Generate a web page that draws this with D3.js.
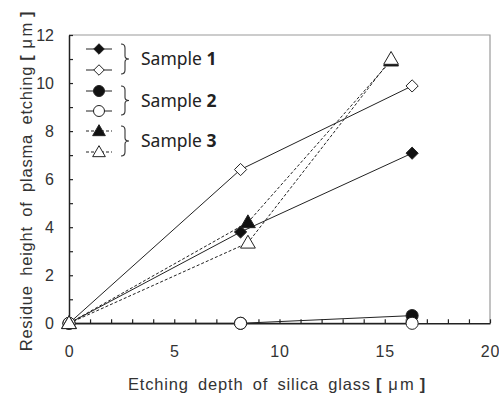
<!DOCTYPE html>
<html lang="en">
<head>
  <meta charset="UTF-8" />
  <title>Residue height vs etching depth</title>
  <style>
  body {
    margin: 0;
    background: #fff;
  }
  svg {
    display: block;
    font-family: "Liberation Sans", Arial, sans-serif;
  }
  </style>
  <script src="https://d3js.org/d3.v7.min.js"></script>
</head>
<body>
  <div id="chart"></div>
  <script>
    // values
    const depth12 = [0, 8.15, 16.3];   // sample 1 and 2 depths
    const depth3 = [0, 8.5, 15.3];     // sample 3 depths
    const s1Filled = [0, 3.8, 7.08];
    const s1Open = [0, 6.4, 9.88];
    const s2Filled = [0, 0, 0.32];
    const s2Open = [0, 0, 0];
    const s3Filled = [0, 4.2, 10.93];
    const s3Open = [0, 3.35, 11.0];
    const xTicks = [0, 5, 10, 15, 20];
    const yTicks = [0, 2, 4, 6, 8, 10, 12];
    const legendLabels = ["1", "2", "3"];

    const series = [
      { xs: depth12, ys: s1Filled, shape: "diamond", filled: true, dashed: false },
      { xs: depth12, ys: s1Open, shape: "diamond", filled: false, dashed: false },
      { xs: depth12, ys: s2Filled, shape: "circle", filled: true, dashed: false },
      { xs: depth12, ys: s2Open, shape: "circle", filled: false, dashed: false },
      { xs: depth3, ys: s3Filled, shape: "triangle", filled: true, dashed: true },
      { xs: depth3, ys: s3Open, shape: "triangle", filled: false, dashed: true }
    ];

    const width = 499, height = 398;
    const margin = { top: 35, right: 9, bottom: 75, left: 69 };

    const svg = d3.select("#chart").append("svg")
      .attr("width", width)
      .attr("height", height);

    const x = d3.scaleLinear().domain([0, 20]).range([margin.left, width - margin.right]);
    const y = d3.scaleLinear().domain([0, 12]).range([height - margin.bottom + 0.3, margin.top]);

    // grey frame on top and right
    svg.append("path")
      .attr("d", `M${x(0)},${y(12)}H${x(20)}V${y(0)}`)
      .attr("fill", "none")
      .attr("stroke", "#9a9a9a")
      .attr("stroke-width", 1.2);

    // x axis, ticks point inward
    const xAxis = svg.append("g")
      .attr("transform", `translate(0,${y(0)})`)
      .call(d3.axisBottom(x).tickValues(d3.range(0, 21)).tickSizeInner(-4).tickSizeOuter(0)
        .tickFormat(d => xTicks.includes(d) ? d : ""));
    xAxis.select(".domain").attr("stroke", "#222").attr("stroke-width", 1.5);
    xAxis.selectAll(".tick line").attr("stroke", "#222").attr("stroke-width", 1.2);
    xAxis.selectAll(".tick text")
      .attr("y", 22)
      .attr("font-size", 16)
      .attr("letter-spacing", 0.8)
      .attr("font-family", "Liberation Sans, Arial, sans-serif")
      .attr("fill", "#333");

    // y axis
    const yAxis = svg.append("g")
      .attr("transform", `translate(${x(0)},0)`)
      .call(d3.axisLeft(y).tickValues(d3.range(0, 13)).tickSizeInner(-4).tickSizeOuter(0)
        .tickFormat(d => yTicks.includes(d) ? d : ""));
    yAxis.select(".domain").attr("stroke", "#222").attr("stroke-width", 1.5);
    yAxis.selectAll(".tick line").attr("stroke", "#222").attr("stroke-width", 1.2);
    yAxis.selectAll(".tick text")
      .attr("x", -15)
      .attr("font-size", 16)
      .attr("font-family", "Liberation Sans, Arial, sans-serif")
      .attr("fill", "#333");

    // marker symbols
    const symbols = {
      diamond: d3.symbol().type(d3.symbolDiamond2).size(95),
      circle: d3.symbol().type(d3.symbolCircle).size(115),
      triangle: d3.symbol().type(d3.symbolTriangle).size(95)
    };

    const line = d3.line();

    series.forEach(s => {
      const pts = s.xs.map((d, i) => [x(d), y(s.ys[i])]);
      svg.append("path")
        .attr("d", line(pts))
        .attr("fill", "none")
        .attr("stroke", "#222")
        .attr("stroke-width", 1)
        .attr("stroke-dasharray", s.dashed ? "3,2" : null);
    });

    series.forEach(s => {
      const pts = s.xs.map((d, i) => [x(d), y(s.ys[i])]);
      svg.selectAll(null)
        .data(pts)
        .enter().append("path")
        .attr("d", symbols[s.shape])
        .attr("transform", d => `translate(${d[0]},${d[1] + (s.shape === "triangle" ? 1 : 0)})`)
        .attr("fill", s.filled ? "#111" : "#fff")
        .attr("stroke", "#222")
        .attr("stroke-width", 1);
    });

    // legend
    const legendRows = [49, 70, 91, 111, 131, 152];
    const legendSymbols = {
      diamond: d3.symbol().type(d3.symbolDiamond2).size(70),
      circle: d3.symbol().type(d3.symbolCircle).size(95),
      triangle: d3.symbol().type(d3.symbolTriangle).size(70)
    };
    const legend = svg.append("g");
    series.forEach((s, i) => {
      const ly = legendRows[i];
      legend.append("line")
        .attr("x1", 86).attr("x2", 112)
        .attr("y1", ly).attr("y2", ly)
        .attr("stroke", "#222")
        .attr("stroke-width", 1)
        .attr("stroke-dasharray", s.dashed ? "3,2" : null);
      legend.append("path")
        .attr("d", legendSymbols[s.shape])
        .attr("transform", `translate(99,${ly + (s.shape === "triangle" ? 1 : 0)})`)
        .attr("fill", s.filled ? "#111" : "#fff")
        .attr("stroke", "#222");
    });

    // braces and labels
    legendLabels.forEach((lab, i) => {
      const y0 = legendRows[i * 2] - 5, y1 = legendRows[i * 2 + 1] + 4;
      const ym = (y0 + y1) / 2;
      const bx = 121, tip = 129;
      legend.append("path")
        .attr("d", `M${bx},${y0} Q${bx + 4},${y0} ${bx + 4},${y0 + 4} V${ym - 3} Q${bx + 4},${ym} ${tip},${ym}`
          + ` Q${bx + 4},${ym} ${bx + 4},${ym + 3} V${y1 - 4} Q${bx + 4},${y1} ${bx},${y1}`)
        .attr("fill", "none")
        .attr("stroke", "#333")
        .attr("stroke-width", 1.1);
      const t = legend.append("text")
        .attr("x", 141)
        .attr("y", ym + 6)
        .attr("font-family", "Noto Sans, sans-serif")
        .attr("font-size", 17.5)
        .attr("fill", "#222");
      t.append("tspan").text("Sample ");
      t.append("tspan").attr("font-weight", "bold").text(lab);
    });

    // axis titles
    function titleText(sel, main) {
      sel.append("tspan").text(main);
      sel.append("tspan").attr("dx", 5).attr("font-weight", "bold").text("[");
      sel.append("tspan").attr("dx", 6).attr("letter-spacing", 0.4).text("μ");
      sel.append("tspan").attr("dx", 2).text("m");
      sel.append("tspan").attr("dx", 5).attr("font-weight", "bold").text("]");
    }

    const xt = svg.append("text")
      .attr("x", 277)
      .attr("y", 390)
      .attr("text-anchor", "middle")
      .attr("font-size", 16.5)
      .attr("word-spacing", 4)
      .attr("letter-spacing", 0.8)
      .attr("fill", "#333");
    titleText(xt, "Etching depth of silica glass");

    const yt = svg.append("text")
      .attr("transform", `translate(32,181) rotate(-90)`)
      .attr("text-anchor", "middle")
      .attr("font-size", 16.5)
      .attr("word-spacing", 4)
      .attr("letter-spacing", 0.8)
      .attr("fill", "#333");
    titleText(yt, "Residue height of plasma etching");
  </script>
</body>
</html>
